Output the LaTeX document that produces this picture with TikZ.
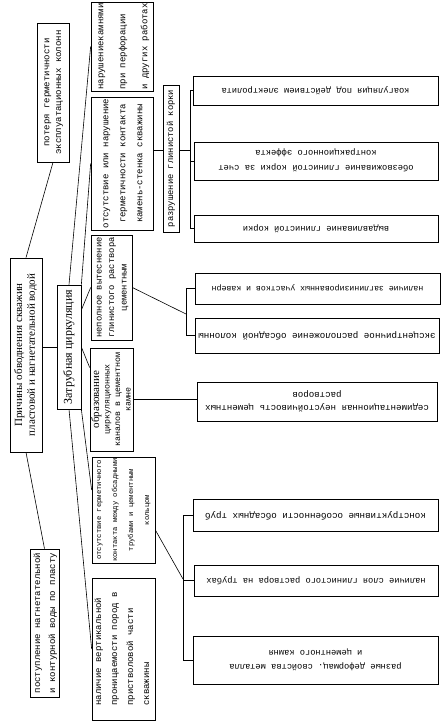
\documentclass[tikz,border=0pt]{standalone}
\usepackage{fontspec}
\setmainfont{Liberation Serif}
\setmonofont{Liberation Mono}
\usepackage{graphicx}
\newcommand\rtv[4]{{\fontsize{#1}{#2}\selectfont\rotatebox{90}{\begin{tabular}{@{}#3@{}}#4\end{tabular}}}}
\newcommand\rtu[4]{{\fontsize{#1}{#2}\selectfont\rotatebox{180}{\begin{tabular}{@{}#3@{}}#4\end{tabular}}}}
\begin{document}
\begin{tikzpicture}[x=1pt,y=-1pt,
  bx/.style={draw, line width=0.7pt, inner sep=0pt},
  tx/.style={inner sep=0pt, font=\ttfamily},
  ln/.style={line width=0.6pt}]
\useasboundingbox (0,0) rectangle (443,725);
% boxes
\node[bx, minimum width=32pt, minimum height=194pt] (main) at (26,355) {};
\node[tx, font=\rmfamily] (maint) at (main) {\rtv{11}{12.7}{c}{Причины обводнения скважин\\пластовой и нагнетательной водой}};
\node[bx, minimum width=32pt, minimum height=139pt] (pot) at (53,92.5) {};
\node[tx] (pott) at (pot) {\rtv{9}{11.7}{c}{потеря герметичности\\эксплуатационных колонн}};
\node[bx, minimum width=29pt, minimum height=148pt] (pos) at (44.5,623) {};
\node[tx] (post) at (pos) {\rtv{9}{15}{c}{поступление нагнетательной\\и контурной воды по пласту}};
\node[bx, minimum width=24pt, minimum height=124pt] (zat) at (69,347) {};
\node[tx, font=\rmfamily] (zatt) at (zat) {\rtv{12}{14}{c}{Затрубная циркуляция}};
\node[bx, minimum width=62pt, minimum height=89pt] (n1) at (122,46.5) {};
\node[tx] (n1t) at ([xshift=-1pt]n1) {\rtv{9}{22}{l}{нарушениекамнями\\при перфорации\\и других работах}};
\node[bx, minimum width=62pt, minimum height=133pt] (n2) at (122,163.5) {};
\node[tx] (n2t) at (n2) {\rtv{9}{17}{c}{отсутствие или нарушение\\герметичности контакта\\камень-стенка скважины}};
\node[bx, minimum width=41pt, minimum height=105pt] (n3) at (111.5,287.5) {};
\node[tx] (n3t) at (n3) {\rtv{8.8}{12.5}{c}{неполное вытеснение\\глинистого раствора\\цементным}};
\node[bx, minimum width=43pt, minimum height=103pt] (n4) at (111.5,399.5) {};
\node[tx] (n4t) at ([xshift=1pt]n4) {\rtv{8.3}{10.5}{c}{{\rmfamily\fontsize{11}{10.5}\selectfont образование}\\циркуляционных\\каналов в цементном\\камне}};
\node[bx, minimum width=63pt, minimum height=106pt] (n5) at (123.5,510) {};
\node[tx] (n5t) at ([xshift=-1.5pt]n5) {\rtv{7.2}{16}{c}{отсутствие герметичного\\контакта между обсадными\\трубами и цементным\\кольцом}};
\node[bx, minimum width=63pt, minimum height=142pt] (n6) at (123.5,649) {};
\node[tx] (n6t) at ([xshift=-1.5pt]n6) {\rtv{9}{16}{l}{наличие вертикальной\\проницаемости пород в\\пристволовой части\\скважины}};
\node[bx, minimum width=16pt, minimum height=147pt] (razr) at (171,158.5) {};
\node[tx] (razrt) at (razr) {\rtv{8.8}{10}{c}{разрушение глинистой корки}};
\node[bx, minimum width=245pt, minimum height=29pt] (A) at (315.5,90.5) {};
\node[tx] (At) at (A) {\rtu{8.7}{10}{c}{коагуляция под действием электролита}};
\node[bx, minimum width=244pt, minimum height=38pt] (B) at (316,161) {};
\node[tx] (Bt) at (B) {\rtu{8.8}{15}{c}{обезвоживание глинистой корки за счет\\контракционного эффекта}};
\node[bx, minimum width=244pt, minimum height=27pt] (C) at (316,228.5) {};
\node[tx] (Ct) at (C) {\rtu{8.7}{10}{c}{выдавливание глинистой корки}};
\node[bx, minimum width=245pt, minimum height=31pt] (D) at (317.5,288.5) {};
\node[tx] (Dt) at (D) {\rtu{8.2}{10}{c}{наличие заглинизированных участков и каверн}};
\node[bx, minimum width=244pt, minimum height=35pt] (E) at (317,335.5) {};
\node[tx] (Et) at (E) {\rtu{9.2}{10}{c}{эксцентричное расположение обсадной колонны}};
\node[bx, minimum width=240pt, minimum height=39pt] (F) at (317,401.5) {};
\node[tx] (Ft) at (F) {\rtu{9.1}{13}{c}{седиментационная неустойчивость цементных\\растворов}};
\node[bx, minimum width=245pt, minimum height=32pt] (G) at (315.5,515) {};
\node[tx] (Gt) at (G) {\rtu{9.2}{10}{c}{конструктивные особенности обсадных труб}};
\node[bx, minimum width=244pt, minimum height=31pt] (H) at (316,580.5) {};
\node[tx] (Ht) at (H) {\rtu{8.7}{10}{c}{наличие слоя глинистого раствора на трубах}};
\node[bx, minimum width=245pt, minimum height=48pt] (I) at (315.5,660) {};
\node[tx] (It) at (I) {\rtu{8.7}{14}{c}{разные деформац. свойства металла\\и цементного камня}};
% connectors
\draw[ln] (main.north) -- (pot.south);
\draw[ln] (main.south) -- (pos.north);
\draw[ln] (main.east |- zat.west) -- (zat.west);
\draw[ln] (zat.north) -- (n1.west);
\draw[ln] (zat.north east) -- (n2.west);
\draw[ln] ([yshift=37pt]zat.east) -- (n3.west);
\draw[ln] (zat.east) -- ([yshift=32pt]n4.west);
\draw[ln] (zat.south east) -- ([yshift=20pt]n5.west);
\draw[ln] (zat.south) -- (n6.west);
% bracket 1
\coordinate (b1) at (190,150);
\draw[ln] (n2.east |- b1) -- (razr.west |- b1);
\draw[ln] (razr.east |- b1) -- (b1);
\draw[ln] (A.west) -| (b1);
\draw[ln] (C.west) -| (b1);
\draw[ln] (B.west) -- (B.west -| b1);
% bracket 2
\coordinate (b2) at (186,314);
\draw[ln] (n3.east) -- (b2);
\draw[ln] (D.west) -| (b2);
\draw[ln] (E.west) -| (b2);
% single
\draw[ln] (n4.east) -- (n4.east -| F.west);
% bracket 3
\coordinate (b3) at (183,579);
\draw[ln] ([yshift=-20pt]n5.east) -- (b3);
\draw[ln] (G.west) -| (b3);
\draw[ln] (I.west) -| (b3);
\draw[ln] (H.west) -- (H.west -| b3);
\end{tikzpicture}
\end{document}
